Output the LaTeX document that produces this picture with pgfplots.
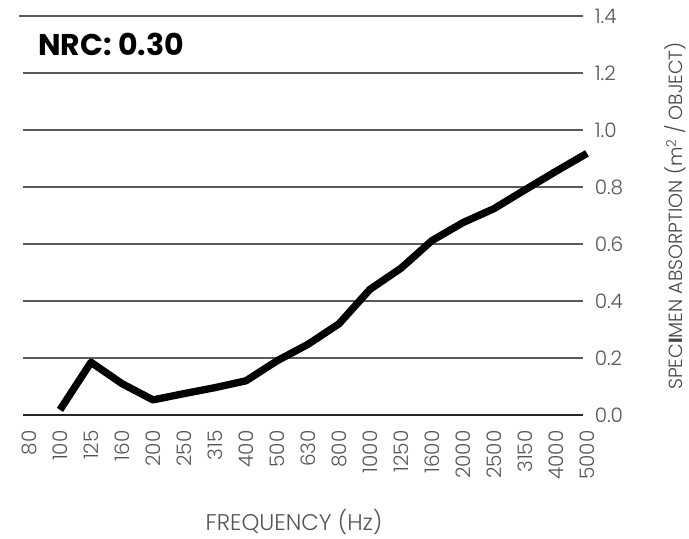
\documentclass[border=0pt]{standalone}
\usepackage{fontspec}
\setmainfont{Poppins}[UprightFont={* Light},BoldFont={* Bold}]
\usepackage{pgfplots}
\pgfplotsset{compat=1.18}
\definecolor{gridc}{HTML}{5A5A5A}
\definecolor{txt}{HTML}{555555}
\begin{document}
\begin{tikzpicture}
\path[use as bounding box] (-17.25pt,-93pt) rectangle (499.5pt,311.25pt);
\begin{axis}[
  at={(0pt,0pt)}, anchor=south west,
  scale only axis,
  width=425.3pt, height=299.25pt,
  xmin=-0.1935, xmax=18.1,
  ymin=0, ymax=1.4,
  clip=false,
  axis line style={draw=none},
  major tick length=0pt,
  xtick={0,...,18},
  xticklabels={80,100,125,160,200,250,315,400,500,630,800,1000,1250,1600,2000,2500,3150,4000,5000},
  xticklabel style={rotate=90, anchor=east, font=\fontsize{15}{17}\selectfont, text=txt},
  xticklabel shift=8pt,
  ytick={0,0.2,...,1.4},
  yticklabel pos=right,
  yticklabel style={anchor=west, font=\fontsize{15}{17}\selectfont, text=txt,
    /pgf/number format/.cd, fixed, fixed zerofill, precision=1, assume math mode=true},
]
\draw[gridc, line width=1pt] (axis cs:-0.32,1.4) -- (axis cs:17.87,1.4);
\pgfplotsinvokeforeach{0.2,0.4,0.6,0.8,1.0,1.2}{
  \draw[gridc, line width=1pt] (axis cs:-0.19,#1) -- (axis cs:17.87,#1);
}
\draw[black!85, line width=1pt] (axis cs:-0.19,0) -- (axis cs:17.87,0);
\addplot[black, line width=5.5pt, line join=round, mark=none] coordinates {
  (1,0.018) (2,0.185) (3,0.11) (4,0.053) (5,0.075) (6,0.096) (7,0.12)
  (8,0.19) (9,0.248) (10,0.32) (11,0.441) (12,0.515) (13,0.612) (14,0.675)
  (15,0.724) (16,0.79) (17,0.855) (18,0.918)
};
\end{axis}
\node[anchor=base west, font=\bfseries\fontsize{22.5}{26}\selectfont] at (8pt,269.25pt) {NRC: 0.30};
\node[font=\fontsize{17}{20}\selectfont, text=txt] at (203.25pt,-80.25pt) {FREQUENCY (Hz)};
\node[rotate=90, font=\fontsize{14.3}{17}\selectfont, text=txt!80!black] at (489.5pt,149.25pt) {SPEC\textbf{I}MEN ABSORPTION (m\textsuperscript{2} / OBJECT)};
\end{tikzpicture}
\end{document}
